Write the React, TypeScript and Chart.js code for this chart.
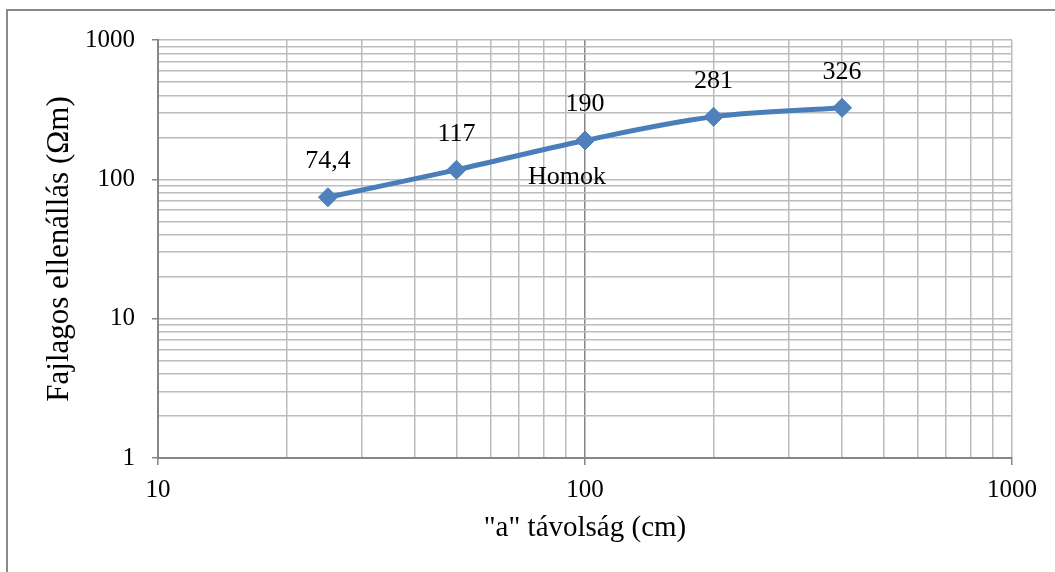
import React, { useEffect, useRef } from 'react';
import { Chart, registerables } from 'chart.js';

Chart.register(...registerables);

const distances = [25, 50, 100, 200, 400];
const resistivity = [74.4, 117, 190, 281, 326];
const seriesName = 'Homok';
const xTickValues = [10, 20, 30, 40, 50, 60, 70, 80, 90, 100, 200, 300, 400, 500, 600, 700, 800, 900, 1000];
const yTickValues = [1, 2, 3, 4, 5, 6, 7, 8, 9, 10, 20, 30, 40, 50, 60, 70, 80, 90, 100, 200, 300, 400, 500, 600, 700, 800, 900, 1000];
const xTickLabels = ['10', '100', '1000'];
const yTickLabels = ['1', '10', '100', '1000'];
const xTitle = '"a" távolság (cm)';
const yTitle = 'Fajlagos ellenállás (Ωm)';

const FONT = '"Liberation Serif", "Times New Roman", serif';

const labelPlugin = {
  id: 'pointValueLabels',
  afterDatasetsDraw(chart: any) {
    const ctx = chart.ctx;
    const meta = chart.getDatasetMeta(0);
    ctx.save();
    ctx.font = `26px ${FONT}`;
    ctx.fillStyle = '#000000';
    ctx.textAlign = 'center';
    ctx.textBaseline = 'middle';
    meta.data.forEach((pt: any, i: number) => {
      ctx.fillText(String(resistivity[i]).replace('.', ','), pt.x, pt.y - 36);
    });
    const p = meta.data[2];
    if (p) ctx.fillText(seriesName, p.x - 18, p.y + 37);
    ctx.restore();
  },
};

export default function App() {
  const canvasRef = useRef<HTMLCanvasElement>(null);

  useEffect(() => {
    if (!canvasRef.current) return;
    const chart = new Chart(canvasRef.current, {
      type: 'scatter',
      data: {
        datasets: [
          {
            label: seriesName,
            data: distances.map((x, i) => ({ x, y: resistivity[i] })),
            showLine: true,
            tension: 0.35,
            borderColor: '#4A7EBB',
            borderWidth: 5,
            pointStyle: 'rectRot',
            pointRadius: 9.5,
            pointBackgroundColor: '#4F81BD',
            pointBorderColor: '#4A7EBB',
            pointBorderWidth: 1,
          },
        ],
      },
      options: {
        animation: false,
        responsive: false,
        devicePixelRatio: 1,
        layout: { padding: { left: 0, top: 40, right: 43, bottom: 0 } },
        plugins: { legend: { display: false }, tooltip: { enabled: false } },
        scales: {
          x: {
            type: 'logarithmic',
            min: 10,
            max: 1000,
            afterBuildTicks: (s: any) => {
              s.ticks = xTickValues.map((v) => ({ value: v }));
            },
            afterFit: (s: any) => {
              s.height = 114;
            },
            ticks: {
              autoSkip: false,
              maxRotation: 0,
              padding: 10,
              color: '#000000',
              font: { family: FONT, size: 25 },
              callback: (v: any) => (xTickLabels.includes(String(v)) ? String(v) : ''),
            },
            grid: {
              color: (c: any) => (c.tick && c.tick.value === 100 ? '#868686' : '#bcbcbc'),
              lineWidth: 1.5,
              tickLength: 7,
              tickColor: (c: any) => (c.tick && xTickLabels.includes(String(c.tick.value)) ? '#868686' : 'rgba(0,0,0,0)'),
            },
            border: { color: '#868686', width: 2 },
            title: {
              display: true,
              text: xTitle,
              color: '#000000',
              font: { family: FONT, size: 29 },
              padding: { top: 0, bottom: 26 },
            },
          },
          y: {
            type: 'logarithmic',
            min: 1,
            max: 1000,
            afterBuildTicks: (s: any) => {
              s.ticks = yTickValues.map((v) => ({ value: v }));
            },
            afterFit: (s: any) => {
              s.width = 158;
            },
            ticks: {
              autoSkip: false,
              padding: 17,
              color: '#000000',
              font: { family: FONT, size: 25 },
              callback: (v: any) => (yTickLabels.includes(String(v)) ? String(v) : ''),
            },
            grid: {
              color: '#bcbcbc',
              lineWidth: 1.5,
              tickLength: 6,
              tickColor: (c: any) => (c.tick && yTickLabels.includes(String(c.tick.value)) ? '#868686' : 'rgba(0,0,0,0)'),
            },
            border: { color: '#868686', width: 2 },
            title: {
              display: true,
              text: yTitle,
              color: '#000000',
              font: { family: FONT, size: 31 },
              padding: { top: 41, bottom: 0 },
            },
          },
        },
      },
      plugins: [labelPlugin],
    } as any);
    return () => chart.destroy();
  }, []);

  return (
    <div
      style={{
        position: 'fixed',
        left: 0,
        top: 0,
        width: 1055,
        height: 572,
        overflow: 'hidden',
        background: '#ffffff',
      }}
    >
      <div
        style={{
          position: 'absolute',
          left: 6,
          top: 9,
          width: 1200,
          height: 800,
          border: '2px solid #8a8a8a',
          boxSizing: 'border-box',
        }}
      />
      <canvas
        ref={canvasRef}
        width={1055}
        height={572}
        style={{ position: 'absolute', left: 0, top: 0, width: 1055, height: 572 }}
      />
    </div>
  );
}
